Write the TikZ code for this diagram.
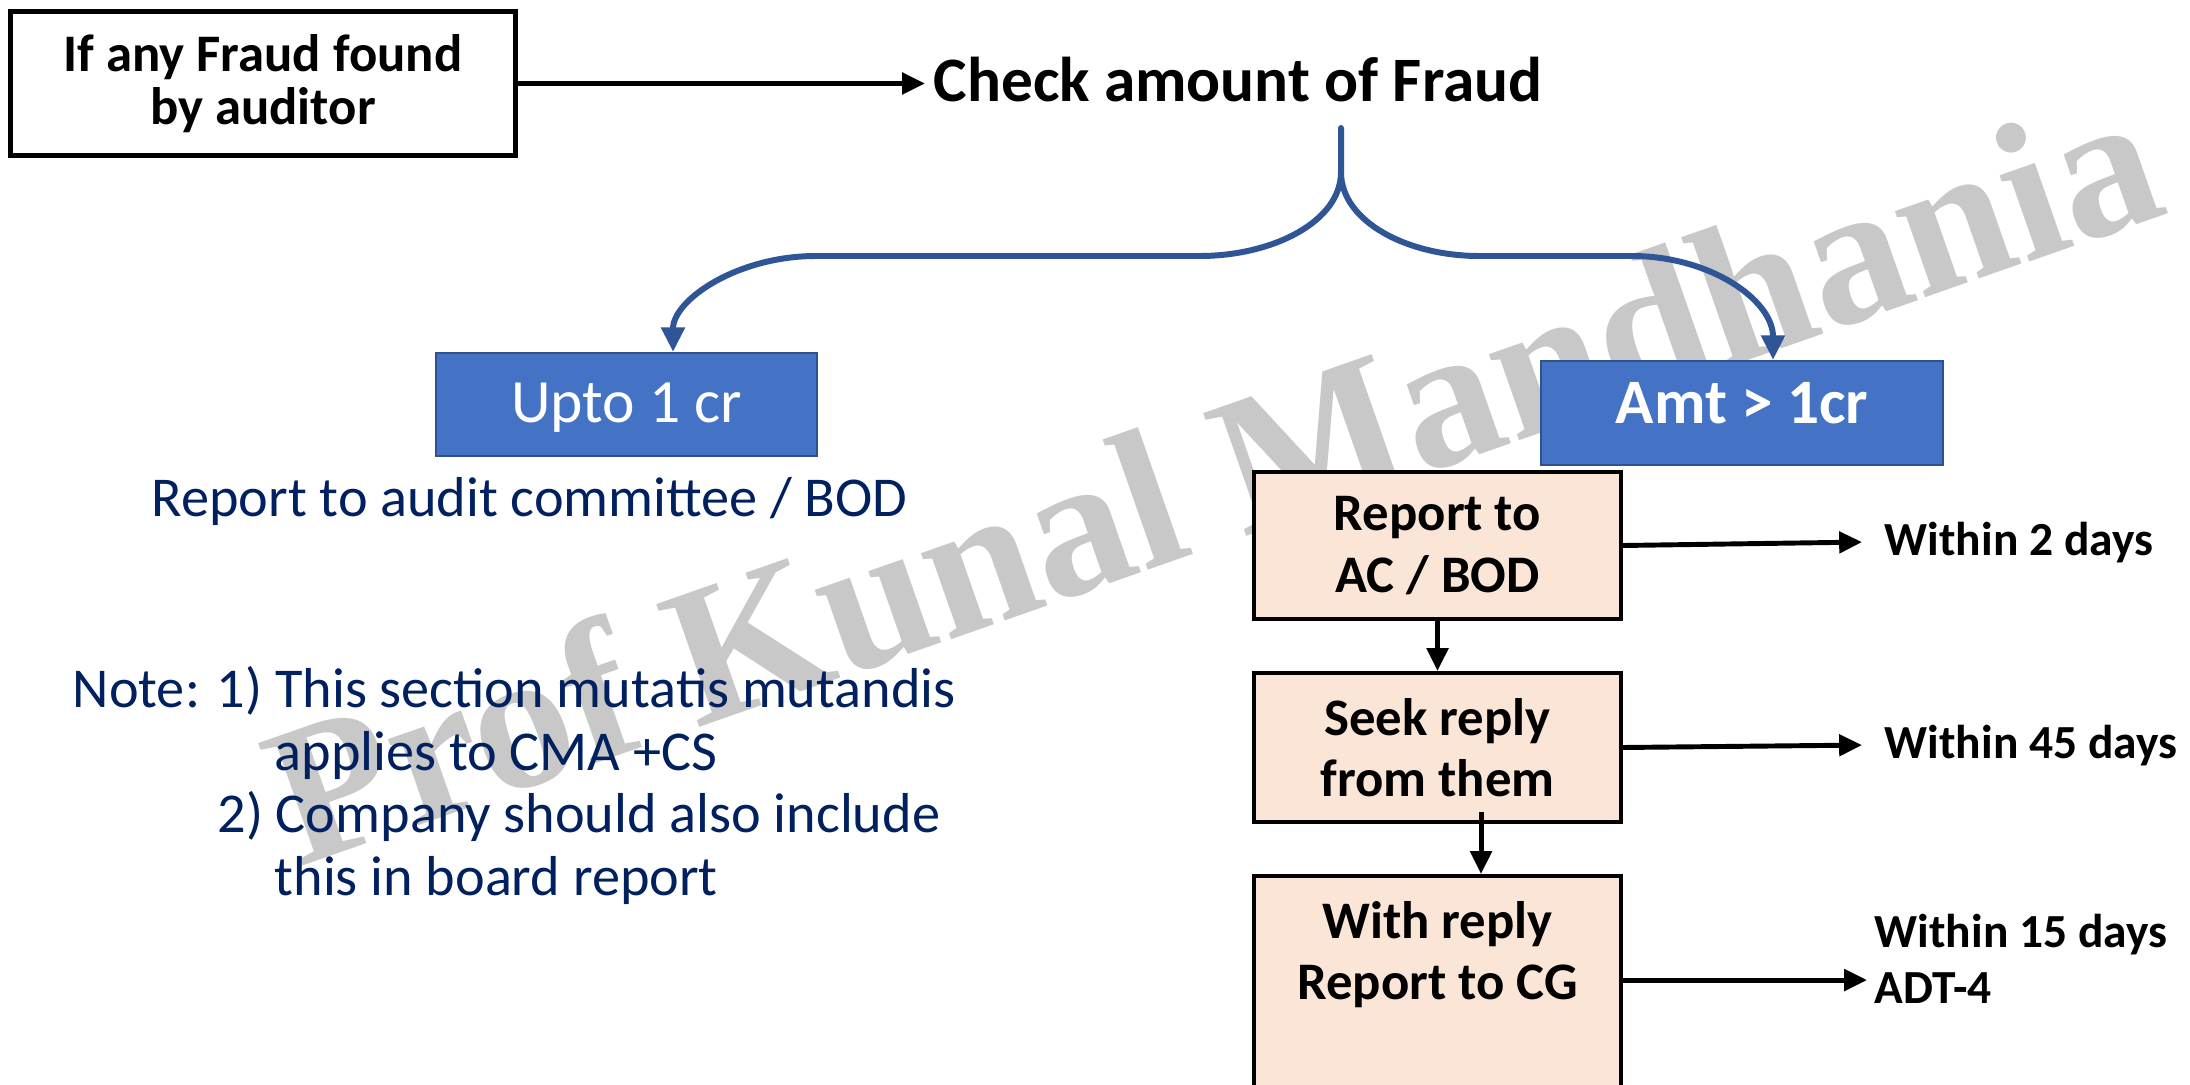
\documentclass[tikz,border=0pt]{standalone}
\usepackage{fontspec}
\setmainfont{Carlito}
\newfontfamily\wmfont{Liberation Serif}
\usetikzlibrary{arrows.meta,calc}

\definecolor{boxblue}{HTML}{4472C4}
\definecolor{boxblueline}{HTML}{2F528F}
\definecolor{bracecol}{HTML}{2F5597}
\definecolor{navy}{HTML}{002060}
\definecolor{peach}{HTML}{FBE5D6}
\definecolor{wmgray}{HTML}{C8C8C8}

\begin{document}
\begin{tikzpicture}[
  x=0.01cm, y=-0.01cm,
  startbox/.style={draw=black, line width=1.4pt, fill=white, align=center,
    minimum width=5.04cm, minimum height=1.43cm, inner sep=0pt,
    font=\fontsize{15}{15.2}\selectfont\bfseries},
  bluebox/.style={fill=boxblue, draw=boxblueline, line width=0.6pt, text=white,
    inner sep=0pt},
  peachbox/.style={fill=peach, draw=black, line width=1.1pt, align=center,
    minimum width=3.67cm, inner sep=0pt,
    font=\fontsize{15}{17.4}\selectfont\bfseries},
  plain/.style={inner sep=0pt, anchor=base west},
  navytext/.style={plain, text=navy, font=\fontsize{16}{18}\selectfont},
  within/.style={anchor=base west, inner ysep=0pt,
    font=\fontsize{13.5}{16}\selectfont\bfseries},
  arr/.style={line width=1.4pt, -{Triangle[length=6.5pt,width=6pt]}},
  brace/.style={draw=bracecol, line width=1.7pt, line cap=round,
    -{Triangle[length=7pt,width=6.5pt]}},
]
\useasboundingbox (0,0) rectangle (2190,1085);
\clip (0,0) rectangle (2190,1085);
\fill[white] (0,0) rectangle (2190,1085);

% watermark behind everything
\node[text=wmgray, anchor=base, rotate=19.3, inner sep=0pt,
      font=\wmfont\fontsize{56.5}{60}\selectfont\bfseries]
  (wm) at (1235,540) {Prof Kunal Mandhania};

% top row
\node[startbox] (start) at (263,83.5) {If any Fraud found\\by auditor};
\node[anchor=base west, inner xsep=0.08cm, inner ysep=0pt,
      font=\fontsize{18}{20}\selectfont\bfseries]
  (check) at (925,102) {Check amount of Fraud};
\draw[arr] (start.east) -- (start.east -| check.west);

% the two branches
\node[bluebox, minimum width=3.81cm, minimum height=1.03cm,
      text height=0.45cm, text depth=0.10cm,
      font=\fontsize{17.5}{20}\selectfont]
  (upto) at (626.5,404.5) {Upto 1 cr};
\node[bluebox, minimum width=4.02cm, minimum height=1.04cm,
      text height=0.44cm, text depth=0.24cm,
      font=\fontsize{18}{20}\selectfont\bfseries]
  (amt) at (1742,413) {Amt > 1cr};

% brace splitting into the two branches
\coordinate (stemtop) at (1341,128);
\coordinate (cusp) at (1341,172);
\draw[brace] (stemtop) -- (cusp)
  .. controls (1341,222) and (1272,256) .. (1200,256) -- (816,256)
  .. controls (737,256) and (673,300) .. ([xshift=0.465cm]upto.north);
\draw[brace] (cusp)
  .. controls (1341,222) and (1408,256) .. (1479,256) -- (1632,256)
  .. controls (1710,256) and (1773,300) .. ([xshift=0.31cm]amt.north);

% left branch text
\node[navytext] (rep) at (151,516) {Report to audit committee / BOD};
\node[navytext] (n1) at (72,707) {Note: 1) This section mutatis mutandis};
\node[navytext] (n2) at (274,770) {applies to CMA +CS};
\node[navytext] (n3) at (217,832) {2) Company should also include};
\node[navytext] (n4) at (274,895) {this in board report};

% right branch steps
\node[peachbox, minimum height=1.47cm] (p1) at (1437.5,545.5) {Report to\\AC / BOD};
\node[peachbox, minimum height=1.49cm] (p2) at (1437.5,747.5) {Seek reply\\from them};
\node[peachbox, minimum height=2.34cm] (p3) at (1437.5,993) {};
\node[align=center, inner sep=0pt, font=\fontsize{15}{17.4}\selectfont\bfseries]
  (p3text) at (1437.5,955) {With reply\\Report to CG};

% time limits
\node[within, inner xsep=0.22cm] (w2) at (1862,555) {Within 2 days};
\node[within, inner xsep=0.22cm] (w45) at (1862,758) {Within 45 days};
\node[within, inner xsep=0.07cm] (w15) at (1867,947) {Within 15 days};
\node[within, inner xsep=0.07cm] (adt) at (1867,1003) {ADT-4};

\draw[arr] (p1.east) -- (w2.west);
\draw[arr] (p2.east) -- (w45.west);
\coordinate (p3out) at ([yshift=-1.06cm]p3.north east);
\draw[arr] (p3out) -- (p3out -| adt.west);
\draw[arr] (p1.south) -- (p2.north);
\draw[arr] ([xshift=0.435cm,yshift=0.12cm]p2.south) -- ([xshift=0.435cm]p3.north);
\end{tikzpicture}
\end{document}
